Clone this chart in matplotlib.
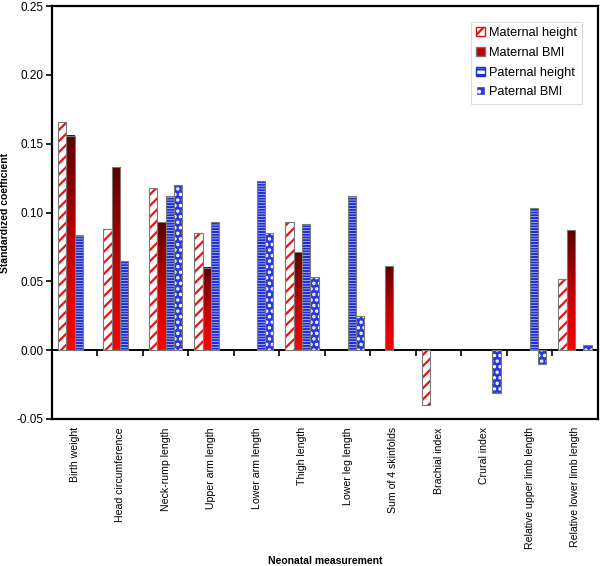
import matplotlib
matplotlib.use('Agg')
import matplotlib.pyplot as plt
import numpy as np
from matplotlib.colors import LinearSegmentedColormap
from matplotlib.patches import Patch

plt.rcParams['font.family'] = ['Liberation Sans', 'DejaVu Sans']
plt.rcParams['hatch.linewidth'] = 1.6

measures = ['Birth weight', 'Head circumference', 'Neck-rump length', 'Upper arm length',
            'Lower arm length', 'Thigh length', 'Lower leg length', 'Sum of 4 skinfolds',
            'Brachial index', 'Crural index', 'Relative upper limb length',
            'Relative lower limb length']

maternal_height = [0.166, 0.088, 0.118, 0.085, 0.0, 0.093, 0.0, 0.0, -0.040, 0.0, 0.0, 0.052]
maternal_bmi = [0.156, 0.133, 0.093, 0.060, 0.0, 0.071, 0.0, 0.061, 0.0, 0.0, 0.0, 0.087]
paternal_height = [0.084, 0.065, 0.112, 0.093, 0.123, 0.092, 0.112, 0.0, 0.0, 0.0, 0.103, 0.0]
paternal_bmi = [0.0, 0.0, 0.120, 0.0, 0.085, 0.053, 0.025, 0.0, 0.0, -0.031, -0.010, 0.004]

fig = plt.figure(figsize=(6.02, 5.66), dpi=100)
ax = fig.add_axes([0.086, 0.26, 0.907, 0.729])

x = np.arange(len(measures))
w = 0.183
offs = [-1.5 * w, -0.5 * w, 0.5 * w, 1.5 * w]
edge = '#7a7a7a'


def outline(xs, vals):
    ax.bar(xs, vals, w, facecolor='none', edgecolor=edge, linewidth=0.8, zorder=4)


def skip0(vals):
    return [v if v != 0 else np.nan for v in vals]


# maternal height: red diagonal stripes
mh = skip0(maternal_height)
ax.bar(x + offs[0], mh, w, facecolor='white', edgecolor='#ee1111', hatch='///',
       linewidth=0, zorder=3)
outline(x + offs[0], mh)

# maternal BMI: red gradient
cmap = LinearSegmentedColormap.from_list('redgrad', ['#ff0000', '#c00000', '#5c0000'])
grad = np.linspace(0, 1, 100).reshape(-1, 1)
for xi, v in zip(x + offs[1], maternal_bmi):
    if v == 0:
        continue
    ax.imshow(grad, extent=[xi - w / 2, xi + w / 2, 0, v], origin='lower',
              aspect='auto', cmap=cmap, zorder=3, interpolation='bilinear')
outline(x + offs[1], skip0(maternal_bmi))

# paternal height: blue horizontal stripes
ph = skip0(paternal_height)
ax.bar(x + offs[2], ph, w, facecolor='white', edgecolor='#2030d0', hatch='------',
       linewidth=0, zorder=3)
outline(x + offs[2], ph)

# paternal BMI: blue with white dots
pb = skip0(paternal_bmi)
ax.bar(x + offs[3], pb, w, facecolor='#2a3ad8', edgecolor='white', hatch='...',
       linewidth=0, zorder=3)
outline(x + offs[3], pb)

ax.set_xlim(-0.5, len(measures) - 0.5)
ax.set_ylim(-0.05, 0.25)
ax.set_yticks([-0.05, 0.0, 0.05, 0.10, 0.15, 0.20, 0.25])
ax.set_yticklabels(['-0.05', '0.00', '0.05', '0.10', '0.15', '0.20', '0.25'])
ax.tick_params(axis='y', labelsize=8.5, length=4, width=1.2, direction='out', pad=2)
ax.set_xticks(x)
ax.set_xticklabels(measures, rotation=90, fontsize=7.6)
ax.tick_params(axis='x', length=0, pad=6)
for s in ax.spines.values():
    s.set_linewidth(1.6)

# zero line with group separator ticks
sec = ax.secondary_xaxis(1 / 6)
sec.set_xticks(np.arange(len(measures) + 1) - 0.5)
sec.tick_params(axis='x', labelbottom=False, length=4, width=1.2, direction='out')
sec.spines['bottom'].set_linewidth(1.4)

ax.set_ylabel('Standardized coefficient', fontsize=7.5, fontweight='bold')
ax.yaxis.set_label_coords(-0.077, 0.5)
ax.set_xlabel('Neonatal measurement', fontsize=7.5, fontweight='bold', labelpad=5)

handles = [
    Patch(facecolor='white', edgecolor='#dd1111', hatch='///'),
    Patch(facecolor='#c00000', edgecolor='#777777'),
    Patch(facecolor='white', edgecolor='#2030d0', hatch='---'),
    Patch(facecolor='#2a3ad8', edgecolor='white', hatch='..'),
]
labels = ['Maternal height', 'Maternal BMI', 'Paternal height', 'Paternal BMI']
leg = ax.legend(handles, labels, loc='upper right', bbox_to_anchor=(0.971, 0.961),
                borderaxespad=0, fontsize=9.2, handlelength=0.7, handleheight=0.7,
                handletextpad=0.3, labelspacing=0.6, fancybox=False, framealpha=1,
                edgecolor='#dddddd', borderpad=0.4)
leg.get_frame().set_linewidth(0.8)

fig.savefig('out.png', dpi=100)
